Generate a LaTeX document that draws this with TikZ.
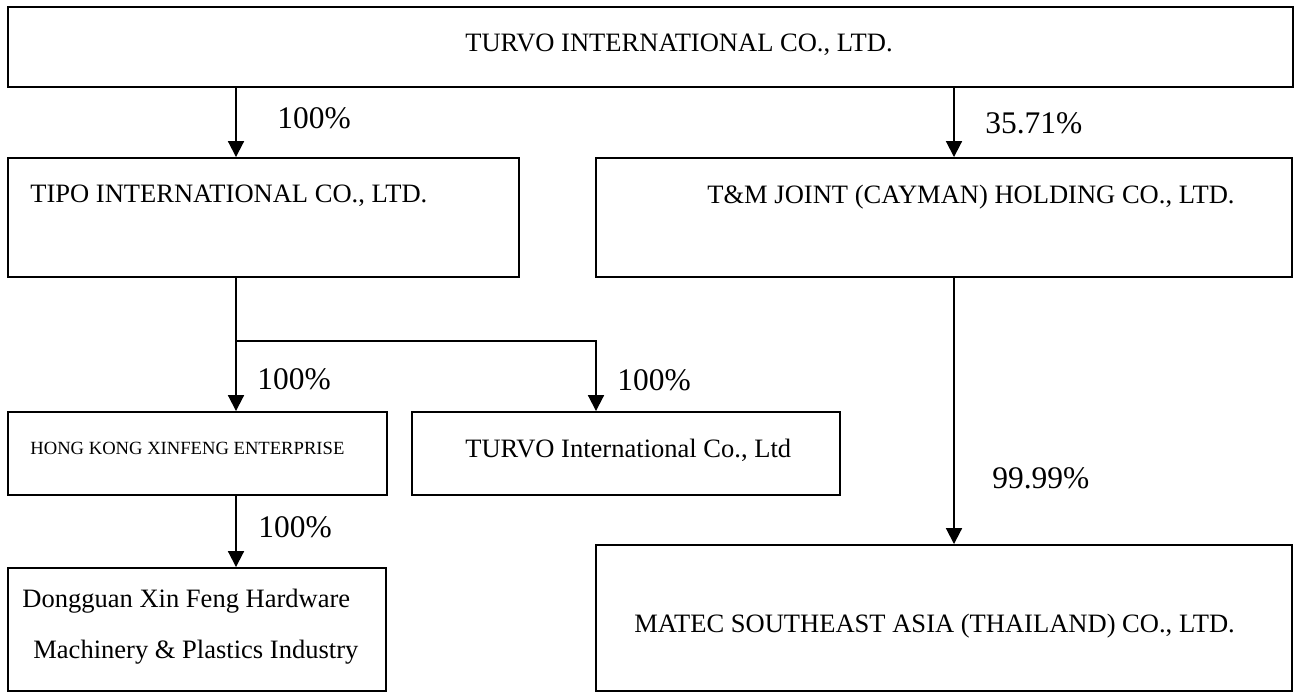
\documentclass[tikz,border=0pt]{standalone}
\usepackage{fontspec}
\setmainfont{Liberation Serif}
\usetikzlibrary{arrows.meta,positioning}

\tikzset{
  box/.style={draw, line width=1.1pt, inner sep=0pt},
  own/.style={line width=1.1pt, -{Triangle[width=9pt,length=9pt]}},
  firm/.style={inner sep=0pt, anchor=base west, font=\fontsize{15.1}{17}\selectfont},
  share/.style={inner sep=0pt, anchor=base west, font=\fontsize{17.9}{21}\selectfont}
}

\begin{document}
\begin{tikzpicture}[x=0.2mm, y=-0.2mm]

\useasboundingbox (0,0) rectangle (1299,693);

\node[box, minimum width=257mm, minimum height=16mm] (turvo) at (650.5,47) {};
\node[box, minimum width=102.2mm, minimum height=23.8mm] (tipo) at (263.5,217.5) {};
\node[box, minimum width=139.2mm, minimum height=23.8mm] (tm) at (944,217.5) {};
\node[box, minimum width=75.8mm, minimum height=16.6mm] (hk) at (197.5,453.5) {};
\node[box, minimum width=85.6mm, minimum height=16.6mm] (turvoint) at (626,453.5) {};
\node[box, minimum width=75.6mm, minimum height=24.6mm] (dongguan) at (197,629.5) {};
\node[box, minimum width=139.2mm, minimum height=29.2mm] (matec) at (944,618) {};

\node[firm] (t0) at (465,51) {TURVO INTERNATIONAL CO., LTD.};
\node[firm] (t1) at (30,202) {TIPO INTERNATIONAL CO., LTD.};
\node[firm] (t2) at (707,203) {T\&M JOINT (CAYMAN) HOLDING CO., LTD.};
\node[firm, font=\fontsize{10.6}{12}\selectfont] (t3) at (30,454) {HONG KONG XINFENG ENTERPRISE};
\node[firm] (t4) at (465,457) {TURVO International Co., Ltd};
\node[firm] (t5) at (22,607) {Dongguan Xin Feng Hardware};
\node[firm] (t6) at (33,658) {Machinery \& Plastics Industry};
\node[firm] (t7) at (634,632) {MATEC SOUTHEAST ASIA (THAILAND) CO., LTD.};

\coordinate (left) at (236,0);
\coordinate (right) at (954,0);
\coordinate (split) at (236,341);
\coordinate (mid) at (596,341);

\draw[own] (turvo.south -| left) -- (tipo.north -| left);
\draw[own] (turvo.south -| right) -- (tm.north -| right);
\draw[own] (tipo.south -| left) -- (hk.north -| left);
\draw[own] (split) -| (turvoint.north -| mid);
\draw[own] (hk.south -| left) -- (dongguan.north -| left);
\draw[own] (tm.south -| right) -- (matec.north -| right);

\node[share] (p1) at (277,128) {100\%};
\node[share] (p2) at (985,133) {35.71\%};
\node[share] (p3) at (257,389) {100\%};
\node[share] (p4) at (617,390) {100\%};
\node[share] (p5) at (258,537) {100\%};
\node[share] (p6) at (992,488) {99.99\%};

\end{tikzpicture}
\end{document}
